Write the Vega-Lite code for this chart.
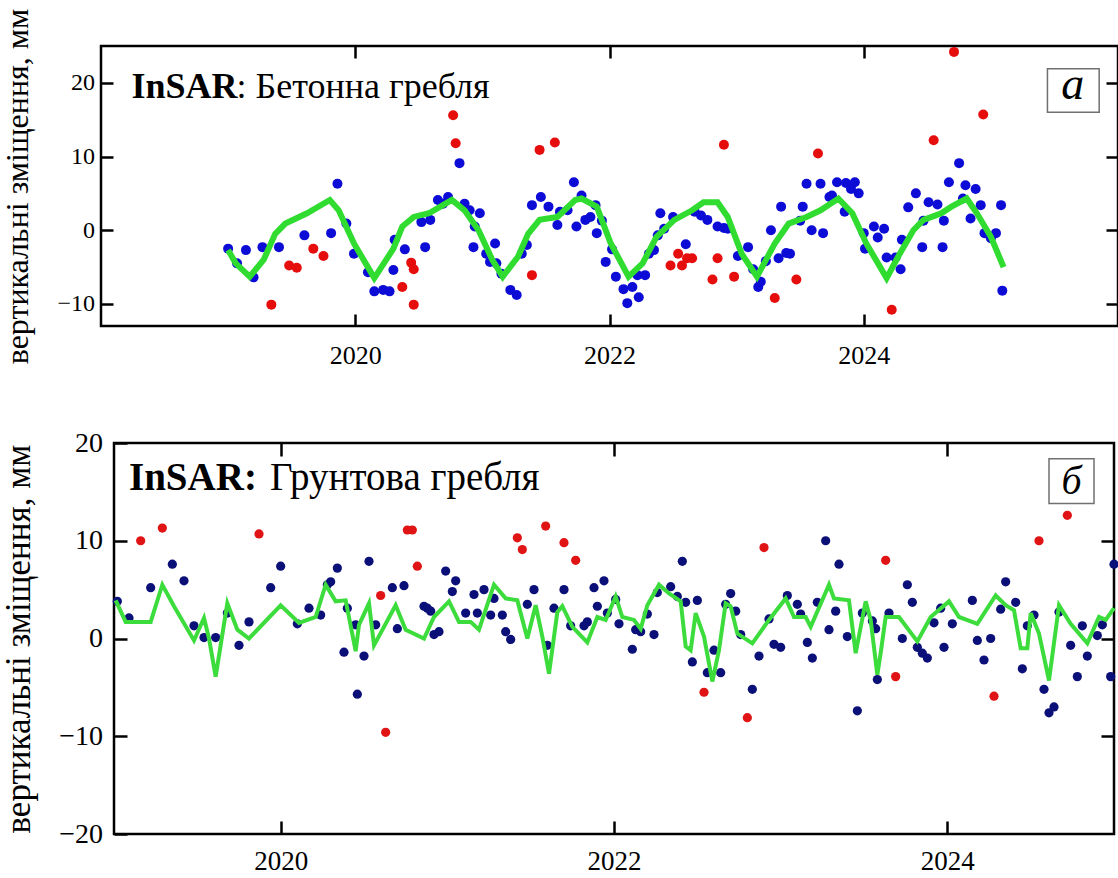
{
  "$schema": "https://vega.github.io/schema/vega-lite/v6.json",
  "background": "white",
  "padding": {"left": 0, "top": 6, "right": 0, "bottom": 0},
  "config": {
    "view": {"stroke": "black", "strokeWidth": 2.5},
    "font": "Liberation Serif",
    "axis": {"labelFont": "Liberation Serif", "titleFont": "Liberation Serif", "labelColor": "black", "titleColor": "black", "tickColor": "black", "tickWidth": 2.5, "domain": false, "grid": false, "titleFontWeight": "normal"}
  },
  "bounds": "flush",
  "spacing": 117,
  "resolve": {"scale": {"color": "independent"}},
  "datasets": {
    "topLine": [
      {"t": 2019.0, "v": -2.7}, {"t": 2019.06, "v": -4.5}, {"t": 2019.17, "v": -6.3}, {"t": 2019.28, "v": -4.0}, {"t": 2019.37, "v": -0.5}, {"t": 2019.45, "v": 0.9}, {"t": 2019.62, "v": 2.3}, {"t": 2019.80, "v": 4.1}, {"t": 2019.87, "v": 2.7}, {"t": 2019.99, "v": -1.8}, {"t": 2020.15, "v": -6.5}, {"t": 2020.30, "v": -2.5}, {"t": 2020.37, "v": 0.5}, {"t": 2020.46, "v": 1.8}, {"t": 2020.58, "v": 2.3}, {"t": 2020.69, "v": 3.4}, {"t": 2020.76, "v": 4.1}, {"t": 2020.86, "v": 2.7}, {"t": 2020.97, "v": 0}, {"t": 2021.08, "v": -4.1}, {"t": 2021.16, "v": -6.3}, {"t": 2021.28, "v": -3.6}, {"t": 2021.36, "v": -0.5}, {"t": 2021.45, "v": 1.4}, {"t": 2021.59, "v": 1.8}, {"t": 2021.73, "v": 4.1}, {"t": 2021.78, "v": 4.3}, {"t": 2021.90, "v": 3.2}, {"t": 2022.01, "v": -1.8}, {"t": 2022.15, "v": -6.3}, {"t": 2022.26, "v": -4.5}, {"t": 2022.37, "v": -0.9}, {"t": 2022.51, "v": 1.4}, {"t": 2022.65, "v": 2.7}, {"t": 2022.74, "v": 3.8}, {"t": 2022.85, "v": 3.8}, {"t": 2022.93, "v": 1.8}, {"t": 2023.04, "v": -3.2}, {"t": 2023.16, "v": -6.3}, {"t": 2023.30, "v": -1.8}, {"t": 2023.41, "v": 0.9}, {"t": 2023.55, "v": 1.8}, {"t": 2023.66, "v": 2.7}, {"t": 2023.80, "v": 4.3}, {"t": 2023.91, "v": 2.3}, {"t": 2024.02, "v": -1.8}, {"t": 2024.18, "v": -6.5}, {"t": 2024.27, "v": -3.6}, {"t": 2024.39, "v": 0}, {"t": 2024.47, "v": 1.4}, {"t": 2024.61, "v": 2.3}, {"t": 2024.69, "v": 3.2}, {"t": 2024.81, "v": 4.3}, {"t": 2024.89, "v": 2.3}, {"t": 2025.00, "v": -0.9}, {"t": 2025.10, "v": -5.0}
    ],
    "topPts": [
      {"t": 2019.0, "v": -2.5, "g": "b"}, {"t": 2019.07, "v": -4.5, "g": "b"}, {"t": 2019.14, "v": -2.7, "g": "b"}, {"t": 2019.20, "v": -6.4, "g": "b"}, {"t": 2019.27, "v": -2.3, "g": "b"}, {"t": 2019.40, "v": -2.3, "g": "b"}, {"t": 2019.60, "v": -0.7, "g": "b"}, {"t": 2019.81, "v": -0.4, "g": "b"}, {"t": 2019.86, "v": 6.3, "g": "b"}, {"t": 2019.93, "v": 0.9, "g": "b"}, {"t": 2019.99, "v": -3.2, "g": "b"}, {"t": 2020.10, "v": -5.7, "g": "b"}, {"t": 2020.15, "v": -8.3, "g": "b"}, {"t": 2020.22, "v": -8.1, "g": "b"}, {"t": 2020.27, "v": -8.3, "g": "b"}, {"t": 2020.30, "v": -5.4, "g": "b"}, {"t": 2020.31, "v": -1.3, "g": "b"}, {"t": 2020.39, "v": -2.6, "g": "b"}, {"t": 2020.52, "v": 1.1, "g": "b"}, {"t": 2020.55, "v": -2.3, "g": "b"}, {"t": 2020.59, "v": 1.4, "g": "b"}, {"t": 2020.65, "v": 4.1, "g": "b"}, {"t": 2020.69, "v": 3.6, "g": "b"}, {"t": 2020.73, "v": 4.5, "g": "b"}, {"t": 2020.82, "v": 9.1, "g": "b"}, {"t": 2020.86, "v": 3.6, "g": "b"}, {"t": 2020.90, "v": 2.7, "g": "b"}, {"t": 2020.94, "v": 0.5, "g": "b"}, {"t": 2020.93, "v": -2.3, "g": "b"}, {"t": 2020.98, "v": 2.3, "g": "b"}, {"t": 2021.03, "v": -3.2, "g": "b"}, {"t": 2021.06, "v": -4.3, "g": "b"}, {"t": 2021.10, "v": -1.8, "g": "b"}, {"t": 2021.11, "v": -4.5, "g": "b"}, {"t": 2021.15, "v": -5.9, "g": "b"}, {"t": 2021.22, "v": -8.1, "g": "b"}, {"t": 2021.27, "v": -8.8, "g": "b"}, {"t": 2021.31, "v": -3.2, "g": "b"}, {"t": 2021.35, "v": -2.0, "g": "b"}, {"t": 2021.39, "v": 3.4, "g": "b"}, {"t": 2021.46, "v": 4.5, "g": "b"}, {"t": 2021.52, "v": 3.2, "g": "b"}, {"t": 2021.59, "v": 0.7, "g": "b"}, {"t": 2021.61, "v": 2.5, "g": "b"}, {"t": 2021.67, "v": 2.7, "g": "b"}, {"t": 2021.72, "v": 6.5, "g": "b"}, {"t": 2021.74, "v": 0.5, "g": "b"}, {"t": 2021.78, "v": 4.7, "g": "b"}, {"t": 2021.81, "v": 1.4, "g": "b"}, {"t": 2021.85, "v": 1.8, "g": "b"}, {"t": 2021.89, "v": 3.4, "g": "b"}, {"t": 2021.90, "v": -0.4, "g": "b"}, {"t": 2021.94, "v": 1.3, "g": "b"}, {"t": 2021.97, "v": -4.3, "g": "b"}, {"t": 2022.02, "v": -2.6, "g": "b"}, {"t": 2022.05, "v": -6.3, "g": "b"}, {"t": 2022.11, "v": -8.0, "g": "b"}, {"t": 2022.14, "v": -9.9, "g": "b"}, {"t": 2022.18, "v": -7.7, "g": "b"}, {"t": 2022.23, "v": -9.1, "g": "b"}, {"t": 2022.22, "v": -6.1, "g": "b"}, {"t": 2022.28, "v": -6.1, "g": "b"}, {"t": 2022.31, "v": -3.2, "g": "b"}, {"t": 2022.35, "v": -2.7, "g": "b"}, {"t": 2022.38, "v": -0.7, "g": "b"}, {"t": 2022.43, "v": 0.2, "g": "b"}, {"t": 2022.40, "v": 2.3, "g": "b"}, {"t": 2022.50, "v": 1.8, "g": "b"}, {"t": 2022.60, "v": -1.9, "g": "b"}, {"t": 2022.67, "v": 2.5, "g": "b"}, {"t": 2022.72, "v": 2.0, "g": "b"}, {"t": 2022.77, "v": 1.4, "g": "b"}, {"t": 2022.85, "v": 0.5, "g": "b"}, {"t": 2022.90, "v": 0.3, "g": "b"}, {"t": 2022.93, "v": 0.2, "g": "b"}, {"t": 2023.01, "v": -3.5, "g": "b"}, {"t": 2023.09, "v": -2.3, "g": "b"}, {"t": 2023.13, "v": -5.3, "g": "b"}, {"t": 2023.17, "v": -7.7, "g": "b"}, {"t": 2023.19, "v": -7.0, "g": "b"}, {"t": 2023.23, "v": -4.2, "g": "b"}, {"t": 2023.27, "v": 0, "g": "b"}, {"t": 2023.33, "v": -3.8, "g": "b"}, {"t": 2023.35, "v": 3.2, "g": "b"}, {"t": 2023.39, "v": -3.1, "g": "b"}, {"t": 2023.42, "v": -3.2, "g": "b"}, {"t": 2023.50, "v": 1.3, "g": "b"}, {"t": 2023.52, "v": 3.2, "g": "b"}, {"t": 2023.55, "v": 6.3, "g": "b"}, {"t": 2023.59, "v": 0, "g": "b"}, {"t": 2023.66, "v": 6.3, "g": "b"}, {"t": 2023.68, "v": -0.4, "g": "b"}, {"t": 2023.73, "v": 4.5, "g": "b"}, {"t": 2023.75, "v": 4.7, "g": "b"}, {"t": 2023.79, "v": 6.5, "g": "b"}, {"t": 2023.85, "v": 2.5, "g": "b"}, {"t": 2023.86, "v": 6.4, "g": "b"}, {"t": 2023.90, "v": 5.6, "g": "b"}, {"t": 2023.93, "v": 6.5, "g": "b"}, {"t": 2023.96, "v": 5.0, "g": "b"}, {"t": 2024.00, "v": -0.4, "g": "b"}, {"t": 2024.01, "v": -2.5, "g": "b"}, {"t": 2024.08, "v": 0.5, "g": "b"}, {"t": 2024.11, "v": -1.0, "g": "b"}, {"t": 2024.16, "v": 0.2, "g": "b"}, {"t": 2024.18, "v": -3.7, "g": "b"}, {"t": 2024.25, "v": -3.7, "g": "b"}, {"t": 2024.29, "v": -5.3, "g": "b"}, {"t": 2024.30, "v": -1.3, "g": "b"}, {"t": 2024.35, "v": 3.1, "g": "b"}, {"t": 2024.41, "v": 5.0, "g": "b"}, {"t": 2024.46, "v": -2.3, "g": "b"}, {"t": 2024.47, "v": 1.3, "g": "b"}, {"t": 2024.51, "v": 3.8, "g": "b"}, {"t": 2024.58, "v": 3.5, "g": "b"}, {"t": 2024.62, "v": -2.3, "g": "b"}, {"t": 2024.63, "v": 1.3, "g": "b"}, {"t": 2024.67, "v": 6.5, "g": "b"}, {"t": 2024.75, "v": 9.1, "g": "b"}, {"t": 2024.78, "v": 4.3, "g": "b"}, {"t": 2024.80, "v": 6.1, "g": "b"}, {"t": 2024.84, "v": 1.6, "g": "b"}, {"t": 2024.88, "v": 5.6, "g": "b"}, {"t": 2024.92, "v": 3.4, "g": "b"}, {"t": 2024.95, "v": -0.4, "g": "b"}, {"t": 2025.00, "v": -1.1, "g": "b"}, {"t": 2025.04, "v": -0.4, "g": "b"}, {"t": 2025.08, "v": 3.4, "g": "b"}, {"t": 2025.09, "v": -8.2, "g": "b"},
      {"t": 2019.34, "v": -10.1, "g": "r"}, {"t": 2019.48, "v": -4.8, "g": "r"}, {"t": 2019.54, "v": -5.1, "g": "r"}, {"t": 2019.67, "v": -2.5, "g": "r"}, {"t": 2019.75, "v": -3.5, "g": "r"}, {"t": 2020.37, "v": -7.7, "g": "r"}, {"t": 2020.44, "v": -4.4, "g": "r"}, {"t": 2020.46, "v": -5.3, "g": "r"}, {"t": 2020.46, "v": -10.1, "g": "r"}, {"t": 2020.77, "v": 15.6, "g": "r"}, {"t": 2020.79, "v": 11.8, "g": "r"}, {"t": 2021.39, "v": -6.1, "g": "r"}, {"t": 2021.45, "v": 10.9, "g": "r"}, {"t": 2021.57, "v": 11.9, "g": "r"}, {"t": 2022.48, "v": -4.8, "g": "r"}, {"t": 2022.54, "v": -3.2, "g": "r"}, {"t": 2022.57, "v": -4.8, "g": "r"}, {"t": 2022.61, "v": -3.8, "g": "r"}, {"t": 2022.65, "v": -3.8, "g": "r"}, {"t": 2022.81, "v": -6.7, "g": "r"}, {"t": 2022.85, "v": -3.8, "g": "r"}, {"t": 2022.90, "v": 11.6, "g": "r"}, {"t": 2022.98, "v": -6.3, "g": "r"}, {"t": 2023.30, "v": -9.2, "g": "r"}, {"t": 2023.47, "v": -6.7, "g": "r"}, {"t": 2023.64, "v": 10.4, "g": "r"}, {"t": 2024.22, "v": -10.8, "g": "r"}, {"t": 2024.55, "v": 12.2, "g": "r"}, {"t": 2024.71, "v": 24.2, "g": "r"}, {"t": 2024.94, "v": 15.7, "g": "r"}
    ],
    "botLine": [
      {"t": 2019.01, "v": 3.9}, {"t": 2019.07, "v": 1.7}, {"t": 2019.22, "v": 1.7}, {"t": 2019.29, "v": 5.5}, {"t": 2019.36, "v": 3.3}, {"t": 2019.48, "v": -0.2}, {"t": 2019.54, "v": 2.1}, {"t": 2019.57, "v": 0}, {"t": 2019.61, "v": -3.9}, {"t": 2019.68, "v": 3.6}, {"t": 2019.74, "v": 0.9}, {"t": 2019.81, "v": 0}, {"t": 2020.00, "v": 3.4}, {"t": 2020.11, "v": 1.6}, {"t": 2020.21, "v": 2.2}, {"t": 2020.27, "v": 5.5}, {"t": 2020.33, "v": 3.8}, {"t": 2020.39, "v": 3.9}, {"t": 2020.45, "v": -1.3}, {"t": 2020.47, "v": 1.4}, {"t": 2020.53, "v": 3.6}, {"t": 2020.56, "v": -0.7}, {"t": 2020.69, "v": 3.4}, {"t": 2020.75, "v": 0.9}, {"t": 2020.86, "v": 0}, {"t": 2020.92, "v": 2.2}, {"t": 2021.01, "v": 3.8}, {"t": 2021.07, "v": 1.7}, {"t": 2021.14, "v": 1.7}, {"t": 2021.19, "v": 0.9}, {"t": 2021.28, "v": 5.5}, {"t": 2021.35, "v": 4.1}, {"t": 2021.42, "v": 3.9}, {"t": 2021.48, "v": 0}, {"t": 2021.53, "v": 3.4}, {"t": 2021.57, "v": 0.2}, {"t": 2021.61, "v": -3.6}, {"t": 2021.66, "v": 2.7}, {"t": 2021.69, "v": 3.3}, {"t": 2021.75, "v": 1.2}, {"t": 2021.84, "v": -0.4}, {"t": 2021.90, "v": 2.2}, {"t": 2021.95, "v": 1.9}, {"t": 2022.01, "v": 4.3}, {"t": 2022.05, "v": 2.2}, {"t": 2022.12, "v": 1.9}, {"t": 2022.16, "v": 1.0}, {"t": 2022.20, "v": 3.4}, {"t": 2022.27, "v": 5.5}, {"t": 2022.33, "v": 4.6}, {"t": 2022.40, "v": 3.8}, {"t": 2022.43, "v": -0.8}, {"t": 2022.46, "v": -1.2}, {"t": 2022.49, "v": 2.6}, {"t": 2022.54, "v": 0.2}, {"t": 2022.59, "v": -4.4}, {"t": 2022.63, "v": -1.2}, {"t": 2022.67, "v": 3.6}, {"t": 2022.70, "v": 3.3}, {"t": 2022.74, "v": 0.5}, {"t": 2022.83, "v": -0.5}, {"t": 2022.93, "v": 1.9}, {"t": 2023.03, "v": 4.1}, {"t": 2023.08, "v": 2.2}, {"t": 2023.15, "v": 2.2}, {"t": 2023.18, "v": 1.2}, {"t": 2023.29, "v": 5.5}, {"t": 2023.32, "v": 4.1}, {"t": 2023.41, "v": 3.9}, {"t": 2023.45, "v": -1.5}, {"t": 2023.51, "v": 3.8}, {"t": 2023.54, "v": 1.9}, {"t": 2023.58, "v": -3.7}, {"t": 2023.60, "v": -1.5}, {"t": 2023.63, "v": 2.2}, {"t": 2023.71, "v": 2.2}, {"t": 2023.82, "v": -0.3}, {"t": 2023.90, "v": 2.2}, {"t": 2024.01, "v": 3.8}, {"t": 2024.07, "v": 2.2}, {"t": 2024.18, "v": 1.5}, {"t": 2024.29, "v": 4.4}, {"t": 2024.35, "v": 3.4}, {"t": 2024.40, "v": 2.9}, {"t": 2024.44, "v": -1.0}, {"t": 2024.48, "v": -1.0}, {"t": 2024.50, "v": 2.6}, {"t": 2024.55, "v": 0.5}, {"t": 2024.61, "v": -4.3}, {"t": 2024.67, "v": 3.4}, {"t": 2024.74, "v": 1.5}, {"t": 2024.84, "v": -0.5}, {"t": 2024.91, "v": 2.2}, {"t": 2024.95, "v": 1.9}, {"t": 2025.0, "v": 3.1}
    ],
    "botPts": [
      {"t": 2019.02, "v": 3.8, "g": "b"}, {"t": 2019.09, "v": 2.1, "g": "b"}, {"t": 2019.22, "v": 5.2, "g": "b"}, {"t": 2019.35, "v": 7.6, "g": "b"}, {"t": 2019.42, "v": 5.9, "g": "b"}, {"t": 2019.48, "v": 1.3, "g": "b"}, {"t": 2019.54, "v": 0.1, "g": "b"}, {"t": 2019.61, "v": 0.1, "g": "b"}, {"t": 2019.68, "v": 2.6, "g": "b"}, {"t": 2019.75, "v": -0.7, "g": "b"}, {"t": 2019.81, "v": 1.7, "g": "b"}, {"t": 2019.94, "v": 5.2, "g": "b"}, {"t": 2020.00, "v": 7.4, "g": "b"}, {"t": 2020.10, "v": 1.5, "g": "b"}, {"t": 2020.17, "v": 3.1, "g": "b"}, {"t": 2020.24, "v": 2.4, "g": "b"}, {"t": 2020.28, "v": 5.5, "g": "b"}, {"t": 2020.30, "v": 5.8, "g": "b"}, {"t": 2020.34, "v": 7.2, "g": "b"}, {"t": 2020.38, "v": -1.4, "g": "b"}, {"t": 2020.40, "v": 3.1, "g": "b"}, {"t": 2020.45, "v": 1.4, "g": "b"}, {"t": 2020.46, "v": -5.7, "g": "b"}, {"t": 2020.50, "v": -1.8, "g": "b"}, {"t": 2020.53, "v": 7.9, "g": "b"}, {"t": 2020.57, "v": 1.4, "g": "b"}, {"t": 2020.67, "v": 5.2, "g": "b"}, {"t": 2020.70, "v": 1.0, "g": "b"}, {"t": 2020.74, "v": 5.4, "g": "b"}, {"t": 2020.86, "v": 3.3, "g": "b"}, {"t": 2020.88, "v": 3.1, "g": "b"}, {"t": 2020.90, "v": 2.8, "g": "b"}, {"t": 2020.92, "v": 0.4, "g": "b"}, {"t": 2020.95, "v": 0.7, "g": "b"}, {"t": 2020.99, "v": 6.9, "g": "b"}, {"t": 2021.03, "v": 4.8, "g": "b"}, {"t": 2021.05, "v": 5.9, "g": "b"}, {"t": 2021.11, "v": 2.6, "g": "b"}, {"t": 2021.16, "v": 4.5, "g": "b"}, {"t": 2021.18, "v": 2.6, "g": "b"}, {"t": 2021.22, "v": 5.0, "g": "b"}, {"t": 2021.26, "v": 2.4, "g": "b"}, {"t": 2021.28, "v": 4.1, "g": "b"}, {"t": 2021.33, "v": 2.4, "g": "b"}, {"t": 2021.35, "v": 0.7, "g": "b"}, {"t": 2021.38, "v": -0.1, "g": "b"}, {"t": 2021.48, "v": 3.5, "g": "b"}, {"t": 2021.52, "v": 5.0, "g": "b"}, {"t": 2021.60, "v": -0.7, "g": "b"}, {"t": 2021.64, "v": 3.1, "g": "b"}, {"t": 2021.70, "v": 5.0, "g": "b"}, {"t": 2021.74, "v": 1.3, "g": "b"}, {"t": 2021.82, "v": 1.3, "g": "b"}, {"t": 2021.84, "v": 1.7, "g": "b"}, {"t": 2021.88, "v": 5.2, "g": "b"}, {"t": 2021.90, "v": 3.3, "g": "b"}, {"t": 2021.94, "v": 5.9, "g": "b"}, {"t": 2021.96, "v": 2.6, "g": "b"}, {"t": 2022.01, "v": 4.0, "g": "b"}, {"t": 2022.03, "v": 1.5, "g": "b"}, {"t": 2022.11, "v": -1.1, "g": "b"}, {"t": 2022.13, "v": 0.9, "g": "b"}, {"t": 2022.16, "v": 0.7, "g": "b"}, {"t": 2022.20, "v": 2.5, "g": "b"}, {"t": 2022.24, "v": 0.4, "g": "b"}, {"t": 2022.26, "v": 4.7, "g": "b"}, {"t": 2022.34, "v": 5.3, "g": "b"}, {"t": 2022.38, "v": 4.3, "g": "b"}, {"t": 2022.41, "v": 7.9, "g": "b"}, {"t": 2022.43, "v": 3.7, "g": "b"}, {"t": 2022.50, "v": 3.9, "g": "b"}, {"t": 2022.47, "v": -2.4, "g": "b"}, {"t": 2022.56, "v": -3.5, "g": "b"}, {"t": 2022.60, "v": -1.2, "g": "b"}, {"t": 2022.64, "v": -3.5, "g": "b"}, {"t": 2022.67, "v": 3.5, "g": "b"}, {"t": 2022.70, "v": 4.6, "g": "b"}, {"t": 2022.73, "v": 2.8, "g": "b"}, {"t": 2022.76, "v": 0.4, "g": "b"}, {"t": 2022.83, "v": -5.2, "g": "b"}, {"t": 2022.87, "v": -1.8, "g": "b"}, {"t": 2022.93, "v": 2.0, "g": "b"}, {"t": 2022.96, "v": -0.6, "g": "b"}, {"t": 2023.00, "v": -0.9, "g": "b"}, {"t": 2023.04, "v": 4.4, "g": "b"}, {"t": 2023.10, "v": 3.5, "g": "b"}, {"t": 2023.12, "v": 2.5, "g": "b"}, {"t": 2023.16, "v": -0.4, "g": "b"}, {"t": 2023.19, "v": -2.0, "g": "b"}, {"t": 2023.22, "v": 3.7, "g": "b"}, {"t": 2023.27, "v": 10.0, "g": "b"}, {"t": 2023.29, "v": 0.9, "g": "b"}, {"t": 2023.33, "v": 2.8, "g": "b"}, {"t": 2023.35, "v": 7.6, "g": "b"}, {"t": 2023.40, "v": 0.2, "g": "b"}, {"t": 2023.46, "v": -7.4, "g": "b"}, {"t": 2023.49, "v": 2.6, "g": "b"}, {"t": 2023.55, "v": 1.8, "g": "b"}, {"t": 2023.57, "v": 1.0, "g": "b"}, {"t": 2023.58, "v": -4.2, "g": "b"}, {"t": 2023.65, "v": 2.6, "g": "b"}, {"t": 2023.73, "v": 0, "g": "b"}, {"t": 2023.76, "v": 5.5, "g": "b"}, {"t": 2023.79, "v": 3.7, "g": "b"}, {"t": 2023.82, "v": -0.9, "g": "b"}, {"t": 2023.85, "v": -1.5, "g": "b"}, {"t": 2023.88, "v": -2.0, "g": "b"}, {"t": 2023.92, "v": 1.6, "g": "b"}, {"t": 2023.96, "v": 3.1, "g": "b"}, {"t": 2023.98, "v": -0.9, "g": "b"}, {"t": 2024.03, "v": 1.5, "g": "b"}, {"t": 2024.15, "v": 3.9, "g": "b"}, {"t": 2024.18, "v": -0.2, "g": "b"}, {"t": 2024.22, "v": -2.2, "g": "b"}, {"t": 2024.26, "v": 0, "g": "b"}, {"t": 2024.32, "v": 3.0, "g": "b"}, {"t": 2024.35, "v": 5.8, "g": "b"}, {"t": 2024.41, "v": 3.7, "g": "b"}, {"t": 2024.45, "v": -3.1, "g": "b"}, {"t": 2024.48, "v": 1.3, "g": "b"}, {"t": 2024.52, "v": 2.4, "g": "b"}, {"t": 2024.58, "v": -5.2, "g": "b"}, {"t": 2024.61, "v": -7.6, "g": "b"}, {"t": 2024.64, "v": -7.0, "g": "b"}, {"t": 2024.67, "v": 2.7, "g": "b"}, {"t": 2024.74, "v": -0.7, "g": "b"}, {"t": 2024.78, "v": -3.9, "g": "b"}, {"t": 2024.81, "v": 1.3, "g": "b"}, {"t": 2024.84, "v": -1.8, "g": "b"}, {"t": 2024.90, "v": 0.3, "g": "b"}, {"t": 2024.93, "v": 1.4, "g": "b"}, {"t": 2024.98, "v": -3.9, "g": "b"}, {"t": 2025.0, "v": 7.6, "g": "b"},
      {"t": 2019.16, "v": 10.0, "g": "r"}, {"t": 2019.29, "v": 11.3, "g": "r"}, {"t": 2019.87, "v": 10.7, "g": "r"}, {"t": 2020.60, "v": 4.4, "g": "r"}, {"t": 2020.63, "v": -9.6, "g": "r"}, {"t": 2020.76, "v": 11.1, "g": "r"}, {"t": 2020.79, "v": 11.1, "g": "r"}, {"t": 2020.82, "v": 7.4, "g": "r"}, {"t": 2021.42, "v": 10.3, "g": "r"}, {"t": 2021.45, "v": 9.1, "g": "r"}, {"t": 2021.59, "v": 11.5, "g": "r"}, {"t": 2021.70, "v": 9.8, "g": "r"}, {"t": 2021.77, "v": 8.0, "g": "r"}, {"t": 2022.54, "v": -5.5, "g": "r"}, {"t": 2022.80, "v": -8.1, "g": "r"}, {"t": 2022.90, "v": 9.3, "g": "r"}, {"t": 2023.63, "v": 8.0, "g": "r"}, {"t": 2023.69, "v": -3.9, "g": "r"}, {"t": 2024.28, "v": -5.9, "g": "r"}, {"t": 2024.55, "v": 10.0, "g": "r"}, {"t": 2024.72, "v": 12.6, "g": "r"}
    ],
    "topNote": [{"a": "InSAR", "b": ": Бетонна гребля", "c": "a"}],
    "botNote": [{"a": "InSAR:", "b": "Грунтова гребля", "c": "б"}],
    "blank": [{"k": 0}]
  },
  "vconcat": [
    {
      "width": 1017,
      "height": 280,
      "layer": [
        {
          "data": {"name": "topPts"},
          "mark": {"type": "circle", "size": 100, "opacity": 1},
          "encoding": {
            "x": {"field": "t", "type": "quantitative", "scale": {"domain": [2018, 2026], "nice": false, "zero": false},
              "axis": {"orient": "top", "values": [2020, 2022, 2024], "labels": false, "tickSize": -12, "tickWidth": 2.5, "tickColor": "black", "domain": false, "grid": false, "title": null}},
            "y": {"field": "v", "type": "quantitative", "scale": {"domain": [-13, 25], "nice": false, "zero": false},
              "axis": {"orient": "right", "values": [-10, 0, 10, 20], "labels": false, "tickSize": -12, "tickWidth": 2.5, "tickColor": "black", "domain": false, "grid": false, "title": null}},
            "color": {"field": "g", "type": "nominal", "scale": {"domain": ["b", "r"], "range": ["#0c0cd6", "#e60d0d"]}, "legend": null}
          }
        },
        {
          "data": {"name": "topLine"},
          "mark": {"type": "line", "color": "#2fdc2f", "strokeWidth": 6, "strokeJoin": "miter"},
          "encoding": {
            "x": {"field": "t", "type": "quantitative",
              "axis": {"orient": "bottom", "values": [2020, 2022, 2024], "format": "d", "tickSize": -12, "tickWidth": 2.5, "tickColor": "black", "domain": false, "grid": false, "labelPadding": 28, "labelFont": "Liberation Serif", "labelFontSize": 26, "labelColor": "black", "title": null}},
            "y": {"field": "v", "type": "quantitative",
              "axis": {"orient": "left", "values": [-10, 0, 10, 20], "tickSize": -12, "tickWidth": 2.5, "tickColor": "black", "domain": false, "grid": false, "labelPadding": 18.5, "labelFont": "Liberation Serif", "labelFontSize": 24, "labelColor": "black", "title": "вертикальні зміщення, мм", "titleFont": "Liberation Serif", "titleFontWeight": "normal", "titleColor": "black", "titleFontSize": 32, "titlePadding": 22.2}}
          }
        },
        {
          "data": {"name": "topNote"},
          "mark": {"type": "rect", "fill": "white", "stroke": "#707070", "strokeWidth": 1.5},
          "encoding": {
            "x": {"datum": 2025.445, "type": "quantitative", "axis": null},
            "x2": {"datum": 2025.852},
            "y": {"datum": 16.0, "type": "quantitative", "axis": null},
            "y2": {"datum": 21.9}
          }
        },
        {
          "data": {"name": "topNote"},
          "mark": {"type": "text", "font": "Liberation Serif", "fontStyle": "italic", "fontSize": 46, "align": "center", "baseline": "alphabetic", "color": "black"},
          "encoding": {
            "x": {"datum": 2025.645, "type": "quantitative", "axis": null},
            "y": {"datum": 17.8, "type": "quantitative", "axis": null},
            "text": {"field": "c"}
          }
        },
        {
          "data": {"name": "topNote"},
          "mark": {"type": "text", "font": "Liberation Serif", "fontWeight": "bold", "fontSize": 36, "align": "left", "baseline": "alphabetic", "color": "black"},
          "encoding": {
            "x": {"datum": 2018.24, "type": "quantitative", "axis": null},
            "y": {"datum": 18.0, "type": "quantitative", "axis": null},
            "text": {"field": "a"}
          }
        },
        {
          "data": {"name": "topNote"},
          "mark": {"type": "text", "font": "Liberation Serif", "fontSize": 36, "align": "left", "baseline": "alphabetic", "color": "black", "dx": 105},
          "encoding": {
            "x": {"datum": 2018.24, "type": "quantitative", "axis": null},
            "y": {"datum": 18.0, "type": "quantitative", "axis": null},
            "text": {"field": "b"}
          }
        }
      ],
      "resolve": {"axis": {"x": "independent", "y": "independent"}}
    },
    {
      "hconcat": [
        {
          "width": 13,
          "height": 10,
          "view": {"stroke": null},
          "data": {"name": "blank"},
          "mark": {"type": "point", "opacity": 0},
          "encoding": {}
        },
        {
          "width": 1000,
          "height": 391,
          "layer": [
            {
              "data": {"name": "botPts"},
              "mark": {"type": "circle", "size": 85, "opacity": 1},
              "encoding": {
                "x": {"field": "t", "type": "quantitative", "scale": {"domain": [2019, 2025], "nice": false, "zero": false},
                  "axis": {"orient": "top", "values": [2020, 2022, 2024], "labels": false, "tickSize": -13, "tickWidth": 2.5, "tickColor": "black", "domain": false, "grid": false, "title": null}},
                "y": {"field": "v", "type": "quantitative", "scale": {"domain": [-20, 20], "nice": false, "zero": false},
                  "axis": {"orient": "right", "values": [-10, 0, 10], "labels": false, "tickSize": -13, "tickWidth": 2.5, "tickColor": "black", "domain": false, "grid": false, "title": null}},
                "color": {"field": "g", "type": "nominal", "scale": {"domain": ["b", "r"], "range": ["#0a1078", "#e01414"]}, "legend": null}
              }
            },
            {
              "data": {"name": "botLine"},
              "mark": {"type": "line", "color": "#3ddc3d", "strokeWidth": 4, "strokeJoin": "miter"},
              "encoding": {
                "x": {"field": "t", "type": "quantitative",
                  "axis": {"orient": "bottom", "values": [2020, 2022, 2024], "format": "d", "tickSize": -13, "tickWidth": 2.5, "tickColor": "black", "domain": false, "grid": false, "labelPadding": 27, "labelFont": "Liberation Serif", "labelFontSize": 27, "labelColor": "black", "title": null}},
                "y": {"field": "v", "type": "quantitative",
                  "axis": {"orient": "left", "values": [-20, -10, 0, 10, 20], "tickSize": -13, "tickWidth": 2.5, "tickColor": "black", "domain": false, "grid": false, "labelPadding": 24.5, "labelFont": "Liberation Serif", "labelFontSize": 28, "labelColor": "black", "title": "вертикальні зміщення, мм", "titleFont": "Liberation Serif", "titleFontWeight": "normal", "titleColor": "black", "titleFontSize": 35, "titlePadding": 22}}
              }
            },
            {
              "data": {"name": "botNote"},
              "mark": {"type": "rect", "fill": "white", "stroke": "#707070", "strokeWidth": 1.5},
              "encoding": {
                "x": {"datum": 2024.61, "type": "quantitative", "axis": null},
                "x2": {"datum": 2024.88},
                "y": {"datum": 13.8, "type": "quantitative", "axis": null},
                "y2": {"datum": 18.4}
              }
            },
            {
              "data": {"name": "botNote"},
              "mark": {"type": "text", "font": "Liberation Serif", "fontStyle": "italic", "fontSize": 40, "align": "center", "baseline": "alphabetic", "color": "black"},
              "encoding": {
                "x": {"datum": 2024.745, "type": "quantitative", "axis": null},
                "y": {"datum": 14.8, "type": "quantitative", "axis": null},
                "text": {"field": "c"}
              }
            },
            {
              "data": {"name": "botNote"},
              "mark": {"type": "text", "font": "Liberation Serif", "fontWeight": "bold", "fontSize": 39, "align": "left", "baseline": "alphabetic", "color": "black"},
              "encoding": {
                "x": {"datum": 2019.09, "type": "quantitative", "axis": null},
                "y": {"datum": 15.2, "type": "quantitative", "axis": null},
                "text": {"field": "a"}
              }
            },
            {
              "data": {"name": "botNote"},
              "mark": {"type": "text", "font": "Liberation Serif", "fontSize": 39, "align": "left", "baseline": "alphabetic", "color": "black", "dx": 141},
              "encoding": {
                "x": {"datum": 2019.09, "type": "quantitative", "axis": null},
                "y": {"datum": 15.2, "type": "quantitative", "axis": null},
                "text": {"field": "b"}
              }
            }
          ],
          "resolve": {"axis": {"x": "independent", "y": "independent"}}
        }
      ],
      "spacing": 0,
      "bounds": "flush"
    }
  ]
}
